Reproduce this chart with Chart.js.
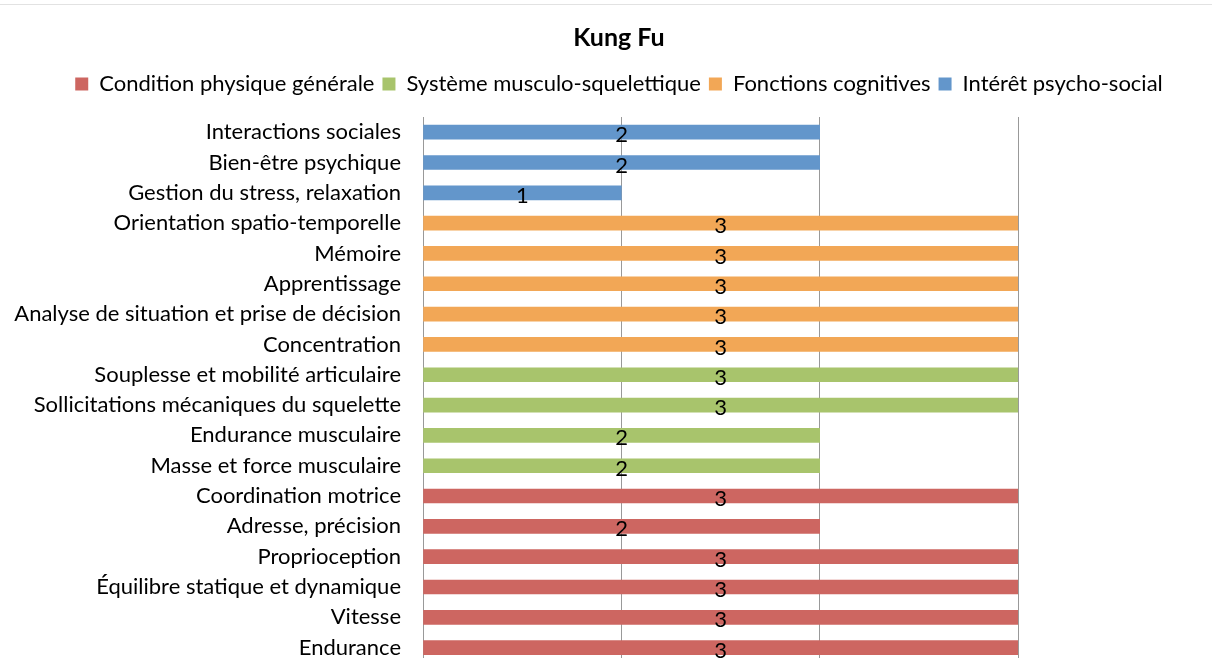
<!DOCTYPE html>
<html>
<head>
<meta charset="utf-8">
<script src="https://cdn.jsdelivr.net/npm/chart.js@4"></script>
<style>
  html, body { margin: 0; padding: 0; background: #fff; overflow: hidden; }
  #topRule { position: absolute; left: 0; top: 4px; width: 1212px; height: 0; border-top: 1px solid #e2e2e2; z-index: 1; }
  #wrap { position: absolute; left: 0; top: 0; width: 1238px; height: 698px; }
</style>
</head>
<body>
<div id="topRule"></div>
<div id="wrap"><canvas id="kungFu"></canvas></div>
<script>
// categories, top to bottom as in the picture
const categories = [
  "Interactions sociales",
  "Bien-être psychique",
  "Gestion du stress, relaxation",
  "Orientation spatio-temporelle",
  "Mémoire",
  "Apprentissage",
  "Analyse de situation et prise de décision",
  "Concentration",
  "Souplesse et mobilité articulaire",
  "Sollicitations mécaniques du squelette",
  "Endurance musculaire",
  "Masse et force musculaire",
  "Coordination motrice",
  "Adresse, précision",
  "Proprioception",
  "Équilibre statique et dynamique",
  "Vitesse",
  "Endurance"
];

const seriesNames = [
  "Condition physique générale",
  "Système musculo-squelettique",
  "Fonctions cognitives",
  "Intérêt psycho-social"
];

const conditionPhysique = [null, null, null, null, null, null, null, null, null, null, null, null, 3, 2, 3, 3, 3, 3];
const systemeMusculo    = [null, null, null, null, null, null, null, null, 3, 3, 2, 2, null, null, null, null, null, null];
const fonctionsCognit   = [null, null, null, 3, 3, 3, 3, 3, null, null, null, null, null, null, null, null, null, null];
const interetPsycho     = [2, 2, 1, null, null, null, null, null, null, null, null, null, null, null, null, null, null, null];

const xTicks = [0, 1, 2, 3];

const colors = ["#CD6661", "#A8C46C", "#F2A756", "#6396CB"];
const seriesData = [conditionPhysique, systemeMusculo, fonctionsCognit, interetPsycho];

const FONT = "Lato, 'Open Sans', sans-serif";

// draws the value in the middle of each bar
const barValues = {
  id: 'barValues',
  afterDatasetsDraw(chart) {
    const ctx = chart.ctx;
    ctx.save();
    ctx.fillStyle = '#000';
    ctx.font = "22px " + FONT;
    ctx.textAlign = 'center';
    ctx.textBaseline = 'middle';
    chart.data.datasets.forEach((ds, i) => {
      chart.getDatasetMeta(i).data.forEach((bar, j) => {
        const v = ds.data[j];
        if (v === null || v === undefined) return;
        const cx = (bar.x + bar.base) / 2;
        ctx.fillText(String(v), cx, bar.y + 3);
      });
    });
    ctx.restore();
  }
};

// a bit more room under the legend
const legendGap = {
  id: 'legendGap',
  beforeInit(chart) {
    const fit = chart.legend.fit;
    chart.legend.fit = function () {
      fit.call(this);
      this.height += 12;
    };
  }
};

new Chart(document.getElementById('kungFu'), {
  type: 'bar',
  data: {
    labels: categories,
    datasets: seriesNames.map((name, i) => ({
      label: name,
      data: seriesData[i],
      backgroundColor: colors[i],
      borderWidth: 0,
      barThickness: 14
    }))
  },
  options: {
    indexAxis: 'y',
    responsive: true,
    maintainAspectRatio: false,
    animation: false,
    layout: { padding: { top: 0, right: 0, bottom: 18, left: 0 } },
    scales: {
      x: {
        stacked: true,
        min: 0,
        max: 3,
        afterBuildTicks(scale) { scale.ticks = xTicks.map(v => ({ value: v })); },
        ticks: { display: false },
        grid: { color: '#999', lineWidth: 1, drawTicks: false },
        border: { display: false }
      },
      y: {
        stacked: true,
        afterFit(scale) { scale.width = 423; },
        ticks: {
          color: '#000',
          font: { family: FONT, size: 22 },
          padding: 22,
          autoSkip: false
        },
        grid: { display: false, drawTicks: false },
        border: { display: true, color: '#999', width: 1 }
      },
      // empty space on the right side of the plot
      yRight: {
        type: 'category',
        position: 'right',
        afterFit(scale) { scale.width = 220; },
        ticks: { display: false },
        grid: { display: false, drawTicks: false },
        border: { display: false }
      }
    },
    plugins: {
      title: {
        display: true,
        text: 'Kung Fu',
        color: '#000',
        font: { family: FONT, size: 25, weight: 'bold' },
        padding: { top: 23, bottom: 12 }
      },
      legend: {
        position: 'top',
        labels: {
          color: '#000',
          font: { family: FONT, size: 22 },
          boxWidth: 13,
          boxHeight: 13,
          padding: 8
        }
      },
      tooltip: { enabled: false }
    }
  },
  plugins: [barValues, legendGap]
});
</script>
</body>
</html>
